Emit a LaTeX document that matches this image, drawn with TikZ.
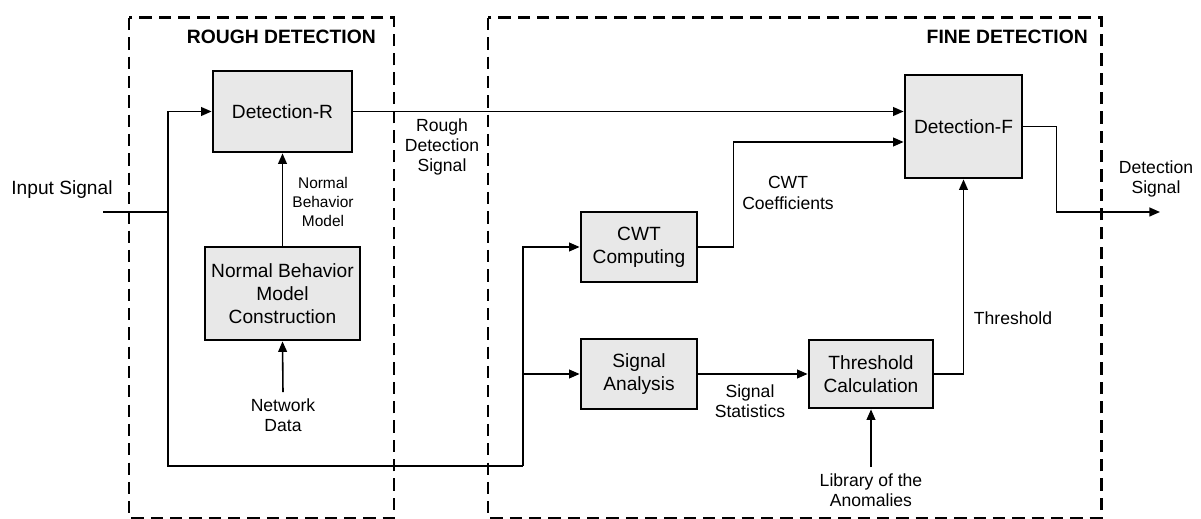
\documentclass[tikz,border=0pt]{standalone}
\usepackage{fontspec}
\setmainfont{Liberation Sans}
\usepackage{tikz}
\usetikzlibrary{arrows.meta,calc}

\tikzset{
    block/.style={draw, line width=1.6pt, fill=gray!18, align=center, font=\fontsize{10.9}{13}\selectfont, inner sep=2pt},
    lbl/.style={align=center, font=\fontsize{10}{11.5}\selectfont},
    arr/.style={-{Triangle[length=6pt,width=5pt]}, line width=0.9pt},
    wire/.style={line width=0.9pt},
    region/.style={line width=1.7pt, dash pattern=on 7pt off 4pt},
}

\begin{document}
\begin{tikzpicture}[x=0.02cm, y=-0.02cm]
    \useasboundingbox (0,0) rectangle (1201,519);

    % Regions
    \draw[region] (129,18) rectangle (394,518);
    \draw[region] (488,18) rectangle (1101,518);
    \node[anchor=east, font=\fontsize{11}{13}\selectfont\bfseries] (roughT) at (382,37) {ROUGH DETECTION};
    \node[anchor=east, font=\fontsize{11}{13}\selectfont\bfseries] (fineT) at (1094,37) {FINE DETECTION};

    % Rough detection
    \node[block, minimum width=2.78cm, minimum height=1.62cm] (detR) at (282.5,111.5) {Detection-R};
    \node[block, minimum width=3.1cm, minimum height=1.86cm] (nbmc) at (282.5,293.5) {Normal Behavior\\Model\\Construction};
    \node[lbl] (net) at (283,415) {Network\\Data};
    \node[align=center, font=\fontsize{8.8}{10.8}\selectfont] (nbmL) at (323,202) {Normal\\Behavior\\Model};
    \draw[arr] (net.north) -- (nbmc.south);
    \draw[arr] (nbmc) -- (detR);

    % Input signal
    \node[lbl, font=\fontsize{10.9}{13}\selectfont] (inL) at (62,190) {Input Signal};
    \coordinate (in) at (103,212);
    \coordinate (sp) at (168,212);
    \coordinate (br) at (523,466);
    \draw[wire] (in) -- (sp);
    \draw[arr] (sp) |- (detR.west);
    \draw[wire] (sp) |- (br);

    % Fine detection
    \node[block, minimum width=2.34cm, minimum height=2.06cm] (detF) at (963.5,126.5) {Detection-F};
    \node[block, minimum width=2.32cm, minimum height=1.4cm] (cwt) at (639,247) {CWT\\Computing};
    \node[block, minimum width=2.32cm, minimum height=1.4cm] (sa) at (639,374) {Signal\\Analysis};
    \node[block, minimum width=2.48cm, minimum height=1.36cm] (tc) at (871,374) {Threshold\\Calculation};
    \node[lbl] (lib) at (871,490) {Library of the\\Anomalies};

    \draw[arr] (br) |- (cwt.west);
    \draw[arr] (br |- sa.west) -- (sa.west);
    \draw[arr] (detR.east) -- (detR.east -| detF.west);
    \draw[arr] (cwt.east) -- ++(35,0) |- ([yshift=-0.31cm]detF.west);
    \draw[arr] (sa) -- (tc);
    \draw[arr] (tc.east) -| (detF.south);
    \draw[arr] (lib.north) -- (tc.south);

    % Output
    \coordinate (out) at (1160,212);
    \draw[arr] (detF.east) -- ++(33,0) |- (out);

    % Labels
    \node[lbl] (rdsL) at (442,147) {Rough\\Detection\\Signal};
    \node[lbl] (cwtL) at (788,193) {CWT\\Coefficients};
    \node[lbl] (ssL) at (750,401) {Signal\\Statistics};
    \node[lbl] (thL) at (1013,318) {Threshold};
    \node[lbl] (outL) at (1156,179) {Detection\\Signal};
\end{tikzpicture}
\end{document}
